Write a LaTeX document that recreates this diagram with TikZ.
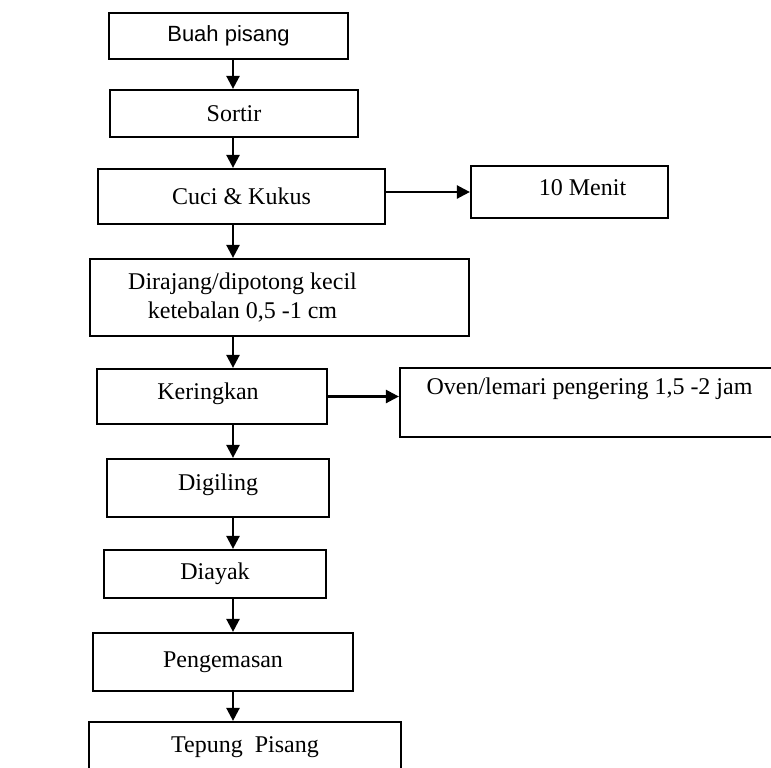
\documentclass[tikz,border=0pt]{standalone}
\usepackage{fontspec}
\setmainfont{Liberation Serif}
\newfontfamily\arialfont{Liberation Sans}
\usetikzlibrary{arrows.meta}

\begin{document}
\begin{tikzpicture}[%
    x=0.5pt,y=-0.5pt,
    procbox/.style={
      rectangle,
      draw=black,
      line width=1.1pt,
      fill=white,
      align=center,
      font=\fontsize{12}{14.5}\selectfont
    },
    line/.style={
      draw,
      line width=1.2pt,
      -{Triangle[length=6.5pt,width=6.5pt]}
    }
  ]
    \useasboundingbox (0,0) rectangle (771,767);
    \clip (0,0) rectangle (771,767);
    \coordinate (spine) at (233,0);

    % main column
    \draw (228.5,36) node[procbox, minimum width=119.5pt, minimum height=23pt,
      font=\arialfont\fontsize{11}{13}\selectfont] (buah) {Buah pisang};
    \draw (234,113.5) node[procbox, minimum width=124pt, minimum height=23.5pt] (sortir) {Sortir};
    \draw (241.5,196.5) node[procbox, minimum width=143.5pt, minimum height=27.5pt] (cuci) {Cuci \& Kukus};
    \draw (279.5,297.5) node[procbox, minimum width=189.5pt, minimum height=38.5pt,
      label={[align=center, xshift=-18.5pt, font=\fontsize{12}{14.5}\selectfont]center:{Dirajang/dipotong kecil\\ketebalan 0,5 -1 cm}}] (rajang) {};
    \draw (212,396.5) node[procbox, minimum width=115pt, minimum height=27.5pt,
      text depth=5pt] (kering) {\hspace*{-4pt}Keringkan};
    \draw (218,488) node[procbox, minimum width=111pt, minimum height=29pt, text depth=6pt] (giling) {Digiling};
    \draw (215,574) node[procbox, minimum width=111pt, minimum height=24pt] (ayak) {Diayak};
    \draw (223,662) node[procbox, minimum width=130pt, minimum height=29pt] (kemas) {Pengemasan};
    \draw (245,747) node[procbox, minimum width=156pt, minimum height=25pt] (tepung) {Tepung\ \ Pisang};

    % side boxes
    \draw (569.5,192) node[procbox, minimum width=98.5pt, minimum height=26pt, text depth=4pt] (menit) {\hspace*{13pt}10 Menit};
    \draw (589.5,402.5) node[procbox, minimum width=189.5pt, minimum height=34.5pt, text depth=16pt] (oven) {Oven/lemari pengering 1,5 -2 jam};

    % arrows
    \path[line] (buah.south -| spine) -- (sortir.north -| spine);
    \path[line] (sortir.south -| spine) -- (cuci.north -| spine);
    \path[line] (cuci.south -| spine) -- (rajang.north -| spine);
    \path[line] (rajang.south -| spine) -- (kering.north -| spine);
    \path[line] (kering.south -| spine) -- (giling.north -| spine);
    \path[line] (giling.south -| spine) -- (ayak.north -| spine);
    \path[line] (ayak.south -| spine) -- (kemas.north -| spine);
    \path[line] (kemas.south -| spine) -- (tepung.north -| spine);
    \path[line] (cuci.east |- menit) -- (menit.west);
    \path[line] (kering.east) -- (kering.east -| oven.west);
  \end{tikzpicture}
\end{document}
